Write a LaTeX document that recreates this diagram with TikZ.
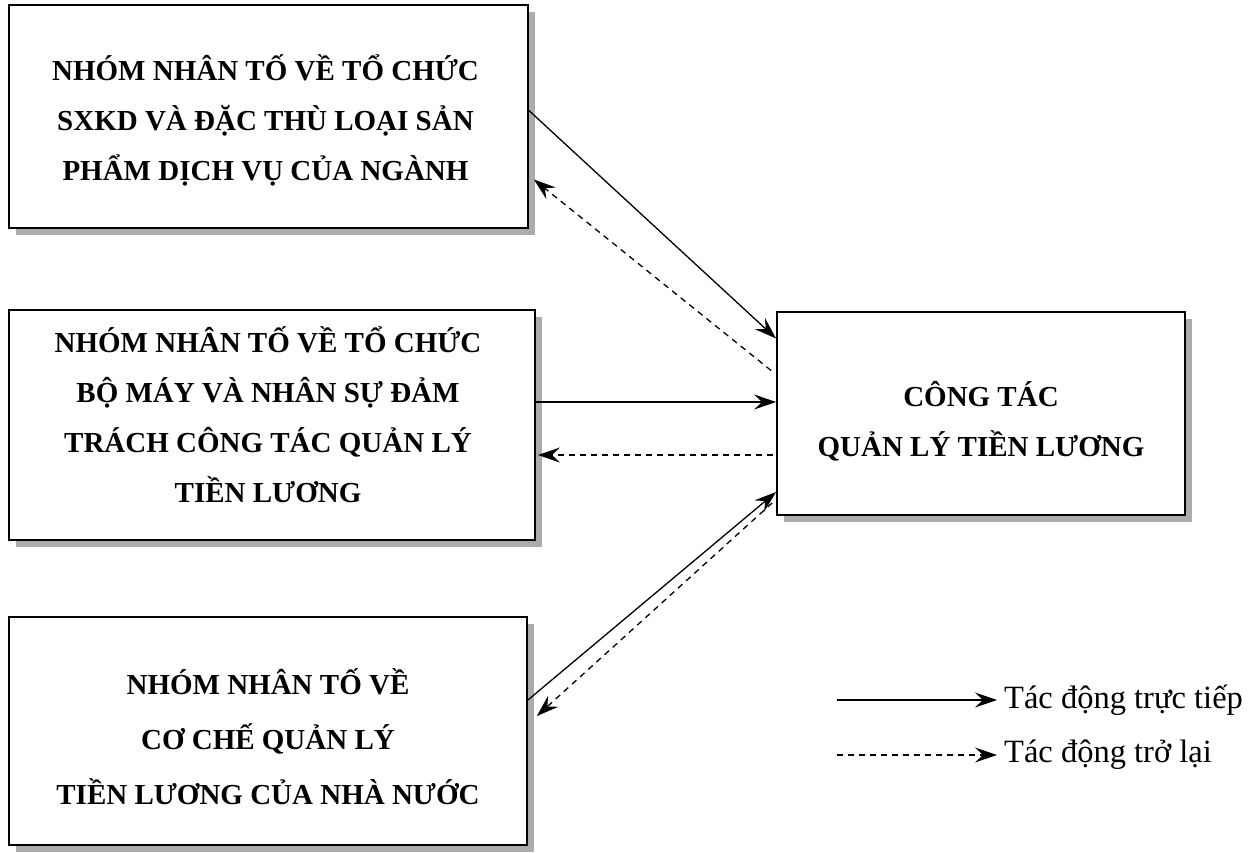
\documentclass[tikz,border=0pt]{standalone}
\usepackage{fontspec}
\setmainfont{Liberation Serif}
\usetikzlibrary{arrows.meta,shadows}
\tikzset{
  box/.style={draw=black, line width=1.8pt, fill=white, rectangle, inner sep=0pt,
    drop shadow={shadow xshift=7pt, shadow yshift=-7pt, fill=gray!65, opacity=1}},
  boxtext/.style={align=center, inner sep=0pt, font=\bfseries\fontsize{29}{50}\selectfont},
  legtext/.style={anchor=west, inner sep=0pt, font=\fontsize{32.5}{38}\selectfont},
  direct/.style={-{Stealth[length=22pt, width=15pt, inset=8pt]}, line width=1.3pt},
  back/.style={direct, dash pattern=on 6pt off 5pt},
}
\begin{document}
\begin{tikzpicture}[x=1pt, y=-1pt]
\useasboundingbox (0,0) rectangle (1251,852);
% boxes
\node[box, minimum width=519pt, minimum height=223pt] (b1) at (268.5,116.5) {};
\node[box, minimum width=526pt, minimum height=230pt] (b2) at (272,425) {};
\node[box, minimum width=518pt, minimum height=228pt] (b3) at (268,731) {};
\node[box, minimum width=408pt, minimum height=203pt] (b4) at (981,413.5) {};
% texts
\node[boxtext] (t1) at ([xshift=-3pt, yshift=-3.5pt]b1.center) {NHÓM NHÂN TỐ VỀ TỔ CHỨC\\SXKD VÀ ĐẶC THÙ LOẠI SẢN\\PHẨM DỊCH VỤ CỦA NGÀNH};
\node[boxtext] (t2) at ([xshift=-4pt, yshift=10pt]b2.center) {NHÓM NHÂN TỐ VỀ TỔ CHỨC\\BỘ MÁY VÀ NHÂN SỰ ĐẢM\\TRÁCH CÔNG TÁC QUẢN LÝ\\TIỀN LƯƠNG};
\node[boxtext, font=\bfseries\fontsize{29}{55}\selectfont] (t3) at ([yshift=-6pt]b3.center) {NHÓM NHÂN TỐ VỀ\\CƠ CHẾ QUẢN LÝ\\TIỀN LƯƠNG CỦA NHÀ NƯỚC};
\node[boxtext] (t4) at ([yshift=-7.5pt]b4.center) {CÔNG TÁC\\QUẢN LÝ TIỀN LƯƠNG};
% connectors
\draw[direct] ([yshift=6pt]b1.east) -- ([yshift=75pt]b4.west);
\draw[back] ([xshift=-5pt, yshift=43pt]b4.west) -- ([xshift=5pt, yshift=-63pt]b1.east);
\draw[direct] ([yshift=23pt]b2.east) -- ([yshift=11.5pt]b4.west);
\draw[back] ([xshift=-3pt, yshift=-41.5pt]b4.west) -- ([xshift=2pt, yshift=-30pt]b2.east);
\draw[direct] ([yshift=31pt]b3.east) -- ([yshift=-78.5pt]b4.west);
\draw[back] ([xshift=-4pt, yshift=-89.5pt]b4.west) -- ([xshift=9pt, yshift=15pt]b3.east);
% legend
\coordinate (l1a) at (837,700);
\coordinate (l1b) at (997,700);
\coordinate (l2a) at (837,755);
\coordinate (l2b) at (997,755);
\draw[direct] (l1a) -- (l1b);
\draw[back] (l2a) -- (l2b);
\node[legtext] (lt1) at (1004,700) {Tác động trực tiếp};
\node[legtext] (lt2) at (1004,755) {Tác động trở lại};
\end{tikzpicture}
\end{document}
